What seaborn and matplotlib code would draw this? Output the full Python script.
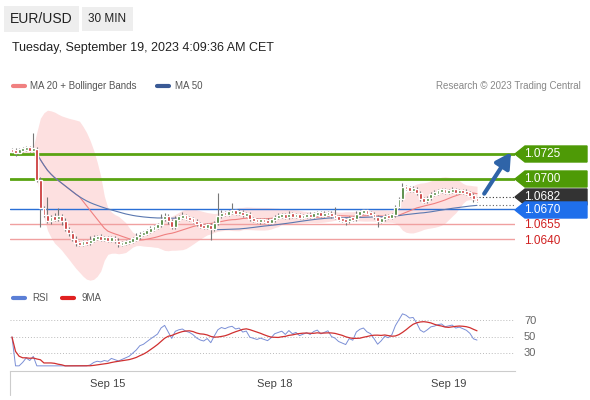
import numpy as np
import pandas as pd
import seaborn as sns
import matplotlib
matplotlib.use("Agg")
import matplotlib.pyplot as plt
from matplotlib.patches import Polygon

sns.set_style("white")
plt.rcParams['font.family'] = ['Liberation Sans', 'DejaVu Sans']

# closes in pips above 1.0600
close_pips = [128,127,129,130,131,129,130, 99, 71, 64,58,62,60,63, 58,50,46,
              40,36,35,37,36, 39,41,42,40,41,39,41, 38,35,36,37,38,
              40,42,45,46,48,50,52,54, 60,63,58, 52, 60,62,63,61,60,58,
              55,53,52,54,50,56, 63,66,65,67,68,66,67,64,65,
              60,59,58,59,58,57,59,62, 63,64,62,65,63,64,62,63,
              64,63,65,66,64,65,66,63,62, 60,59,58,61,60,
              65,67,68,66,65,62,58,60, 63,62,64,72,80, 92,91,89,90,
              86,80,78,81, 85,86,88,89,87,88,89,87,88,87, 86,84,80,79]
first_open_pips = 129
hi_wick = [2,3,2,2,2,2,16, 2,3,2,18,2,4,8, 2,3,2, 2,3,2,2,2, 4,3,2,3,2,2,2, 2,3,2,2,2,
           2,4,2,2,2,3,2,2, 5,3,2, 2, 3,2,4,2,2,2, 2,2,2,2,2,2, 23,3,2,2,8,2,3,2,2,
           2,2,2,2,2,3,2,2, 3,2,2,3,2,2,2,2, 2,3,2,2,2,3,2,2,9, 2,2,2,2,2,
           3,2,2,2,2,2,2,2, 2,2,2,2,2, 4,2,2,3, 2,2,2,2, 2,3,2,2,2,2,3,2,2,2, 3,2,2,2]
lo_wick = [2,4,2,2,2,2,2, 2,19,2,2,3,2,2, 4,2,3, 2,3,2,2,2, 2,2,2,2,2,2,2, 2,3,2,2,2,
           2,2,2,2,2,2,2,2, 2,2,3, 2, 2,2,2,2,2,2, 2,2,2,2,11,2, 2,2,2,2,2,2,2,2,2,
           2,2,2,3,2,2,2,2, 2,2,2,2,2,2,2,2, 2,2,2,2,2,2,2,2,2, 2,2,4,2,2,
           2,2,2,2,2,2,6,2, 2,2,2,2,2, 2,2,2,2, 2,2,2,2, 2,2,2,2,2,2,2,2,2,2, 2,2,3,2]
tick_pos = [27, 74, 123]
tick_labels = ["Sep 15", "Sep 18", "Sep 19"]
resist = [1.0725, 1.0700]
support = [1.0655, 1.0640]
pivot = 1.0670
last_price = 1.0682

c = np.array(close_pips) / 10000 + 1.06
o = np.concatenate([[first_open_pips / 10000 + 1.06], c[:-1]])
hi = np.maximum(o, c) + np.array(hi_wick) / 10000
lo = np.minimum(o, c) - np.array(lo_wick) / 10000
n = len(c)
idx = np.arange(n)
s = pd.Series(c)
ma20 = s.rolling(20, min_periods=1).mean()
sd20 = s.rolling(20, min_periods=2).std().fillna(0)
ma50 = s.rolling(50, min_periods=1).mean()
d = s.diff()
up = d.clip(lower=0).ewm(alpha=1/14, adjust=False).mean()
dn = (-d.clip(upper=0)).ewm(alpha=1/14, adjust=False).mean()
rsi = (100 - 100 / (1 + up / dn.replace(0, 1e-9))).fillna(50).clip(15, 85)
rsi9 = rsi.rolling(9, min_periods=1).mean()

W, H = 590, 400
fig = plt.figure(figsize=(W/100, H/100), dpi=100)

def fx(px): return px / W
def fy(py): return 1 - py / H

XL = (-0.56, 141.7)
ax = fig.add_axes([fx(10), fy(285), fx(505), (285-110)/H])
ax.set_xlim(*XL)
ax.set_ylim(1.0594, 1.0769)
ax.axis('off')

ax.fill_between(idx, ma20 - 2*sd20, ma20 + 2*sd20, color='#fde0e0', lw=0, zorder=0)
for r in resist:
    ax.axhline(r, color='#5aa312', lw=2, zorder=1)
ax.axhline(pivot, color='#2a6fd6', lw=1, zorder=1)
for sp in support:
    ax.axhline(sp, color='#f0a0a0', lw=1, zorder=1)

sns.lineplot(x=idx, y=ma20, ax=ax, color='#f08080', lw=0.8, zorder=2)
sns.lineplot(x=idx, y=ma50, ax=ax, color='#5a78b0', lw=0.8, zorder=2)

colors = np.where(c >= o, '#3d7a2a', '#c62828')
ax.vlines(idx, lo, hi, color='#777777', lw=0.8, zorder=3)
body = np.maximum(np.abs(c - o), 0.00035)
ax.bar(idx, body, bottom=(o + c) / 2 - body / 2, width=0.8, color=colors, zorder=4)

ax.plot([n - 0.5, XL[1]], [last_price, last_price], ls=(0, (1, 2)), color='#333333', lw=0.8)
ax.plot([n - 0.5, XL[1]], [ma50.iloc[-1], ma50.iloc[-1]], ls=(0, (1, 2)), color='#666666', lw=0.8)
ax.annotate('', xy=(141, 1.0729), xytext=(132.6, 1.0683),
            arrowprops=dict(arrowstyle='-|>,head_width=0.5,head_length=0.9', color='#2f64a8', lw=3))

# RSI panel
ax2 = fig.add_axes([fx(10), fy(368), fx(505), 58/H])
ax2.set_xlim(*XL)
ax2.set_ylim(12.4, 82.7)
ax2.axis('off')
for lvl in (70, 50, 30):
    ax2.axhline(lvl, color='#bbbbbb', lw=0.7, ls=(0, (1, 2)))
sns.lineplot(x=idx, y=rsi, ax=ax2, color='#7b8fd6', lw=0.7)
sns.lineplot(x=idx, y=rsi9, ax=ax2, color='#d03030', lw=0.9)
for lvl in (70, 50, 30):
    fig.text(fx(524), fy(337 - (lvl - 50) * 0.825), str(lvl), fontsize=8, color='#666666', va='center')

# bottom axis
ax3 = fig.add_axes([fx(10), fy(371), fx(505), 0.001])
ax3.set_xlim(*XL)
ax3.set_yticks([])
for sp in ['top', 'left', 'right']:
    ax3.spines[sp].set_visible(False)
ax3.spines['bottom'].set_color('#cccccc')
ax3.set_xticks(tick_pos)
ax3.set_xticklabels(tick_labels, fontsize=8, color='#444444')
ax3.tick_params(axis='x', length=3, color='#cccccc', pad=3)
fig.add_artist(plt.Line2D([fx(10), fx(10)], [fy(371), fy(395)], color='#cccccc', lw=0.8))

# right labels
def tag(py, text, bg, fg='white'):
    h = 8
    pts = [(fx(515), fy(py)), (fx(525), fy(py - h)), (fx(587), fy(py - h)),
           (fx(587), fy(py + h)), (fx(525), fy(py + h))]
    fig.add_artist(Polygon(pts, closed=True, color=bg, transform=fig.transFigure))
    fig.text(fx(524), fy(py), text, color=fg, fontsize=8.5, va='center')

tag(154, '1.0725', '#4e9a06')
tag(179, '1.0700', '#4e9a06')
tag(197, '1.0682', '#333333')
tag(210, '1.0670', '#1f6feb')
fig.text(fx(524), fy(225), '1.0655', color='#d02020', fontsize=8.5, va='center')
fig.text(fx(524), fy(241), '1.0640', color='#d02020', fontsize=8.5, va='center')

# header
fig.text(fx(10), fy(19), 'EUR/USD', fontsize=10, color='#222222', va='center',
         bbox=dict(boxstyle='square,pad=0.45', fc='#eeeeee', ec='none'))
fig.text(fx(88), fy(19), '30 MIN', fontsize=8.5, color='#222222', va='center',
         bbox=dict(boxstyle='square,pad=0.55', fc='#eeeeee', ec='none'))
fig.text(fx(12), fy(48), 'Tuesday, September 19, 2023 4:09:36 AM CET', fontsize=9, color='#222222', va='center')

fig.add_artist(plt.Line2D([fx(13), fx(25)], [fy(86)]*2, color='#f08080', lw=3))
fig.text(fx(30), fy(86), 'MA 20 + Bollinger Bands', fontsize=7, color='#555555', va='center')
fig.add_artist(plt.Line2D([fx(157), fx(169)], [fy(86)]*2, color='#3a5a95', lw=3))
fig.text(fx(175), fy(86), 'MA 50', fontsize=7, color='#555555', va='center')
fig.text(fx(581), fy(86), 'Research © 2023 Trading Central', fontsize=7, color='#888888', va='center', ha='right')

fig.add_artist(plt.Line2D([fx(13), fx(25)], [fy(298)]*2, color='#5b7fd6', lw=3))
fig.text(fx(32), fy(298), 'RSI', fontsize=7, color='#555555', va='center')
fig.add_artist(plt.Line2D([fx(62), fx(74)], [fy(298)]*2, color='#e02020', lw=3))
fig.text(fx(81), fy(298), '9MA', fontsize=7, color='#555555', va='center')

fig.savefig('out.png', dpi=100)
